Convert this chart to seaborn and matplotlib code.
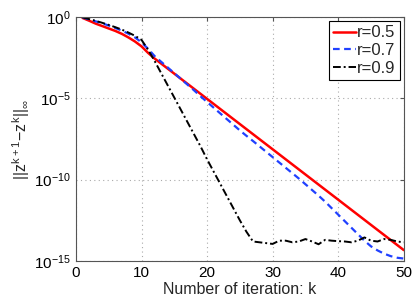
import numpy as np
import pandas as pd
import seaborn as sns
import matplotlib
matplotlib.use("Agg")
import matplotlib.pyplot as plt

# iteration index
k = list(range(1, 51))

# log10 of the residual
log_r05 = [-0.05, -0.22, -0.40, -0.55, -0.70, -0.85, -1.03, -1.25, -1.50, -1.80,
           -2.20, -2.55, -2.86, -3.17, -3.48, -3.79, -4.10, -4.41, -4.72, -5.03,
           -5.34, -5.65, -5.96, -6.27, -6.58, -6.89, -7.20, -7.51, -7.82, -8.13,
           -8.44, -8.75, -9.06, -9.37, -9.68, -9.99, -10.30, -10.61, -10.92, -11.23,
           -11.54, -11.85, -12.16, -12.47, -12.78, -13.09, -13.40, -13.71, -14.02, -14.33]
log_r07 = [-0.03, -0.14, -0.26, -0.38, -0.52, -0.67, -0.83, -1.02, -1.25, -1.55,
           -1.95, -2.40, -2.75, -3.10, -3.45, -3.80, -4.15, -4.50, -4.87, -5.22,
           -5.57, -5.92, -6.27, -6.62, -6.97, -7.30, -7.62, -7.95, -8.28, -8.61,
           -8.94, -9.27, -9.60, -9.93, -10.28, -10.63, -10.98, -11.35, -11.75, -12.15,
           -12.55, -12.95, -13.35, -13.75, -14.10, -14.35, -14.55, -14.70, -14.80, -14.85]
log_r09 = [-0.02, -0.12, -0.23, -0.35, -0.48, -0.62, -0.77, -0.95, -1.15, -1.40,
           -2.00, -2.70, -3.45, -4.20, -4.95, -5.70, -6.45, -7.20, -7.95, -8.75,
           -9.50, -10.25, -11.00, -11.75, -12.50, -13.20, -13.80, -13.85, -13.90, -13.95,
           -13.75, -13.75, -13.85, -13.80, -13.65, -13.80, -13.97, -13.70, -13.75, -13.78,
           -13.80, -13.85, -13.75, -13.55, -13.75, -13.80, -13.65, -13.70, -13.80, -13.85]

labels = ["r=0.5", "r=0.7", "r=0.9"]
series = [log_r05, log_r07, log_r09]
colors = ["#ff0000", "#2040ff", "#000000"]
styles = ["-", (0, (3, 2)), (0, (4, 1.5, 1, 1.5))]
widths = [1.8, 1.6, 1.4]

sns.set_style("white")
plt.rcParams["font.family"] = ["Liberation Sans", "DejaVu Sans"]
plt.rcParams["mathtext.default"] = "regular"

fig = plt.figure(figsize=(4.15, 3.0), dpi=100)
ax = fig.add_axes([0.183, 0.13, 0.79, 0.813])

for lab, vals, c, ls, lw in zip(labels, series, colors, styles, widths):
    df = pd.DataFrame({"k": k, "res": 10.0 ** np.array(vals)})
    sns.lineplot(data=df, x="k", y="res", color=c, linestyle=ls, linewidth=lw,
                 label=lab, ax=ax)

ax.set_yscale("log")
ax.set_xlim(0, 50)
ax.set_ylim(1e-15, 1)
ax.set_xticks([0, 10, 20, 30, 40, 50])
ax.set_yticks([1e-15, 1e-10, 1e-5, 1])
ax.set_yticklabels([r"$10^{-15}$", r"$10^{-10}$", r"$10^{-5}$", r"$10^{0}$"])
ax.minorticks_off()
ax.tick_params(direction="in", labelsize=11, length=3, colors="#555555",
               labelcolor="black", top=True, right=True)
ax.grid(True, linestyle=(0, (1, 3)), color="#aaaaaa", linewidth=0.8)
for s in ax.spines.values():
    s.set_color("#555555")
    s.set_linewidth(0.8)

ax.set_xlabel("Number of iteration: k", fontsize=11.5, labelpad=1.5)
ax.set_ylabel(r"$||z^{k+1}{-}z^{k}||_{\infty}$", fontsize=11.5, labelpad=2)

leg = ax.legend(loc="upper right", fontsize=12, fancybox=False, framealpha=1,
                edgecolor="black", borderpad=0.25, labelspacing=0.17,
                handlelength=1.4, handletextpad=0.05, borderaxespad=0.25)
leg.get_frame().set_linewidth(0.8)

fig.savefig("out.png", dpi=100)
